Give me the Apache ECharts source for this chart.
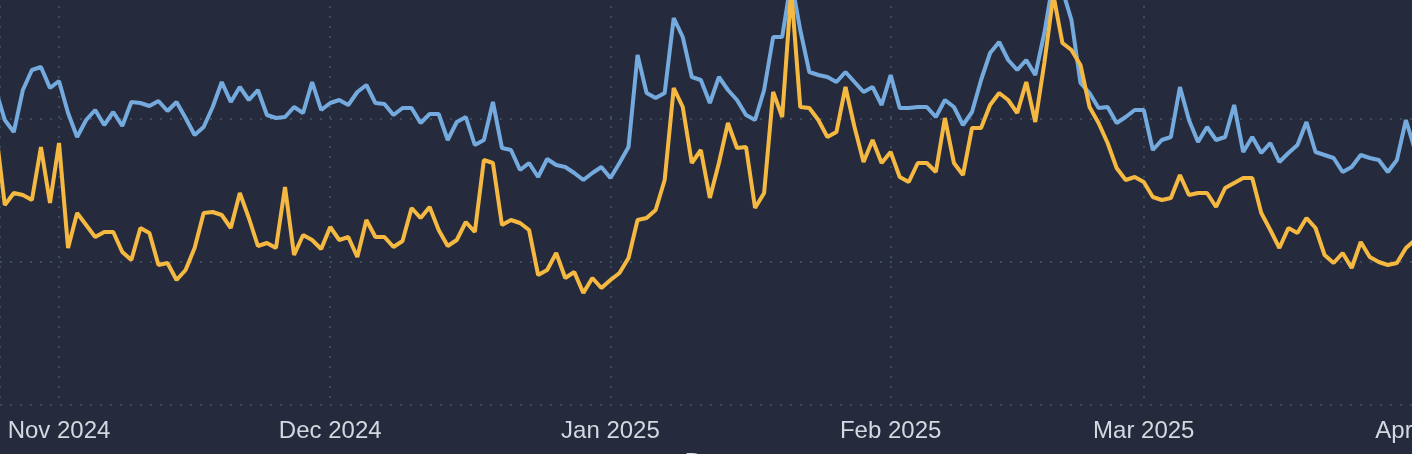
<!DOCTYPE html>
<html>
<head>
<meta charset="utf-8">
<script src="https://cdn.jsdelivr.net/npm/echarts@6/dist/echarts.min.js"></script>
<style>
  html, body { margin: 0; padding: 0; background: #252b3c; }
  #chart { width: 1412px; height: 454px; }
</style>
</head>
<body>
<div id="chart"></div>
<script>
// daily values, from 2024-10-25
var startDate = '2024-10-25';
var blueValues = [
  315, 285, 273, 315, 335, 338, 317,
  324, 292, 268, 285, 295, 280, 293, 279, 303, 302, 299, 304, 294, 303, 287, 270, 278, 298, 323, 303, 318, 305, 315, 290, 287, 288, 298, 292, 323, 295,
  302, 305, 300, 313, 320, 302, 301, 290, 297, 297, 282, 291, 291, 265, 283, 288, 260, 265, 303, 257, 255, 235, 242, 228, 246, 240, 238, 232, 225, 232, 238,
  227, 242, 258, 350, 312, 307, 312, 387, 368, 328, 325, 302, 328, 315, 305, 290, 285, 315, 368, 368, 425, 375, 333, 330, 328, 323, 333, 323, 313, 318, 300,
  330, 297, 297, 298, 298, 288, 305, 298, 280, 293, 325, 352, 363, 345, 335, 345, 330, 372, 425, 415, 385, 322, 312, 297, 298, 282, 288, 295,
  295, 255, 265, 268, 318, 285, 263, 278, 265, 268, 300, 253, 268, 252, 262, 243, 252, 260, 283, 253, 250, 247, 233, 238, 250, 247, 245, 233, 245, 285, 255,
  245
];
var yellowValues = [
  275, 200, 212, 210, 205, 258, 202,
  262, 157, 192, 180, 168, 173, 173, 153, 145, 177, 172, 140, 142, 125, 135, 157, 192, 193, 190, 177, 212, 187, 159, 162, 157, 218, 150, 170, 165, 156,
  178, 165, 168, 148, 185, 168, 168, 158, 164, 197, 187, 198, 175, 159, 165, 183, 173, 245, 242, 180, 185, 182, 175, 130, 135, 152, 127, 133, 112, 127, 117,
  125, 132, 147, 185, 187, 195, 225, 317, 298, 242, 255, 207, 242, 282, 257, 258, 197, 212, 313, 288, 415, 298, 297, 285, 268, 273, 318, 278, 243, 265, 242,
  253, 228, 223, 242, 242, 233, 287, 242, 230, 277, 277, 300, 312, 305, 292, 323, 283, 342, 410, 362, 355, 340, 298, 282, 262, 237, 225, 228,
  223, 208, 205, 207, 230, 210, 212, 212, 198, 217, 222, 227, 227, 192, 175, 157, 177, 172, 187, 177, 150, 142, 152, 137, 163, 148, 143, 140, 142, 157, 165,
  170
];
var monthNames = ['Jan', 'Feb', 'Mar', 'Apr', 'May', 'Jun', 'Jul', 'Aug', 'Sep', 'Oct', 'Nov', 'Dec'];

var DAY = 86400000;
var t0 = Date.UTC(2024, 9, 25);
function toSeries(vals) {
  return vals.map(function (v, i) { return [t0 + i * DAY, v]; });
}

var dots = { color: '#3d4c5b', type: [2, 8], width: 2 };

var chart = echarts.init(document.getElementById('chart'));
var option = {
  backgroundColor: '#252b3c',
  animation: false,
  grid: { left: 0, right: -12, top: -24, bottom: 49, containLabel: false, outerBoundsMode: 'none' },
  xAxis: {
    type: 'time',
    min: t0 + 0.47 * DAY,
    max: Date.UTC(2025, 3, 1),
    minInterval: 28 * DAY,
    name: 'Date',
    nameLocation: 'middle',
    nameGap: 46,
    nameTextStyle: { color: '#d4d8e0', fontSize: 26, fontFamily: 'Liberation Sans', verticalAlign: 'top' },
    axisLine: { show: false },
    axisTick: { show: false },
    axisLabel: {
      color: '#d4d8e0',
      fontSize: 24,
      fontFamily: 'Liberation Sans',
      margin: 14,
      showMaxLabel: true,
      hideOverlap: false,
      formatter: function (val) {
        var d = new Date(val);
        return monthNames[d.getUTCMonth()] + ' ' + d.getUTCFullYear();
      }
    },
    splitLine: { show: true, lineStyle: dots }
  },
  yAxis: {
    type: 'value',
    min: 0,
    max: 429,
    interval: 143,
    axisLine: { show: false },
    axisTick: { show: false },
    axisLabel: { show: false },
    splitLine: { show: true, lineStyle: dots }
  },
  series: [
    {
      type: 'line', data: toSeries(blueValues), showSymbol: false,
      lineStyle: { color: '#74aade', width: 4 }, itemStyle: { color: '#74aade' }
    },
    {
      type: 'line', data: toSeries(yellowValues), showSymbol: false,
      lineStyle: { color: '#f5b942', width: 4 }, itemStyle: { color: '#f5b942' }
    }
  ]
};
chart.setOption(option);
</script>
</body>
</html>
